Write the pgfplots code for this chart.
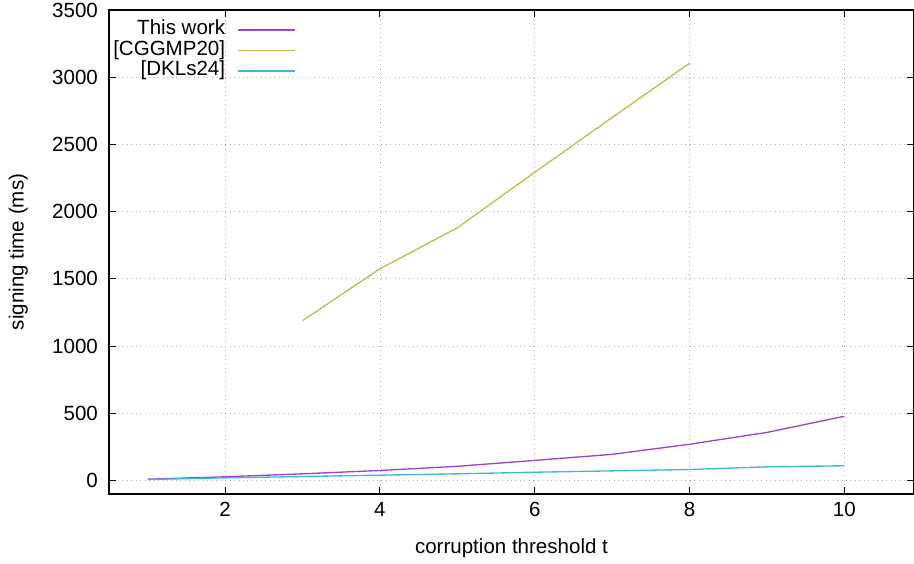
\documentclass[border=0pt]{standalone}
\usepackage{fontspec}
\setmainfont{Liberation Sans}
\usepackage{pgfplots}
\pgfplotsset{compat=1.18}
\definecolor{cone}{HTML}{9A44D0}
\definecolor{ctwo}{HTML}{C4BC4E}
\definecolor{cthree}{HTML}{3CB8DC}
\begin{document}
\fontsize{15.4}{18}\selectfont
\begin{tikzpicture}
\begin{axis}[
  scale only axis, width=603.75pt, height=363pt,
  xmin=0.5, xmax=10.9, ymin=-100, ymax=3500,
  xtick={2,4,6,8,10}, ytick={0,500,1000,1500,2000,2500,3000,3500},
  /pgf/number format/assume math mode=true,
  scaled y ticks=false,
  yticklabel style={/pgf/number format/1000 sep={}, xshift=-3pt},
  xticklabel style={yshift=-1pt},
  grid=major,
  grid style={gray!60, line width=0.6pt, dash pattern=on 0.75pt off 2.6pt},
  tick align=inside, major tick length=5.5pt,
  axis line style={line width=0.8pt, black},
  tick style={black, line width=0.8pt},
  xlabel={corruption threshold t},
  ylabel={signing time (ms)},
  xlabel style={at={(rel axis cs:0.5,0)}, anchor=center, yshift=-40.5pt},
  ylabel style={at={(rel axis cs:0,0.5)}, anchor=center, yshift=68pt},
  legend plot pos=right,
  legend cell align=right,
  legend style={at={(rel axis cs:0,1)}, anchor=north west, xshift=3pt, yshift=-7.5pt,
    draw=none, fill=none, inner sep=0pt, row sep=0.9pt, column sep=9pt,
    nodes={inner sep=0pt, text height=11pt, text depth=3.5pt}},
  legend image code/.code={\draw[#1, line width=1pt] (0pt,0pt) -- (43pt,0pt);},
  every axis plot/.append style={line width=1pt},
]
\addplot[cone] coordinates {(1,10) (2,28) (3,50) (4,75) (5,106) (6,150) (7,195) (8,270) (9,358) (10,478)};
\addlegendentry{This work}
\addplot[ctwo] coordinates {(3,1189) (4,1575) (5,1880) (6,2293) (7,2700) (8,3104)};
\addlegendentry{[CGGMP20]}
\addplot[cthree] coordinates {(1,8) (2,20) (3,30) (4,40) (5,50) (6,62) (7,72) (8,82) (9,102) (10,110)};
\addlegendentry{[DKLs24]}
\end{axis}
\pgfresetboundingbox
\path (-81.75pt,-52.5pt) rectangle (603.75pt,370.5pt);
\end{tikzpicture}
\end{document}
